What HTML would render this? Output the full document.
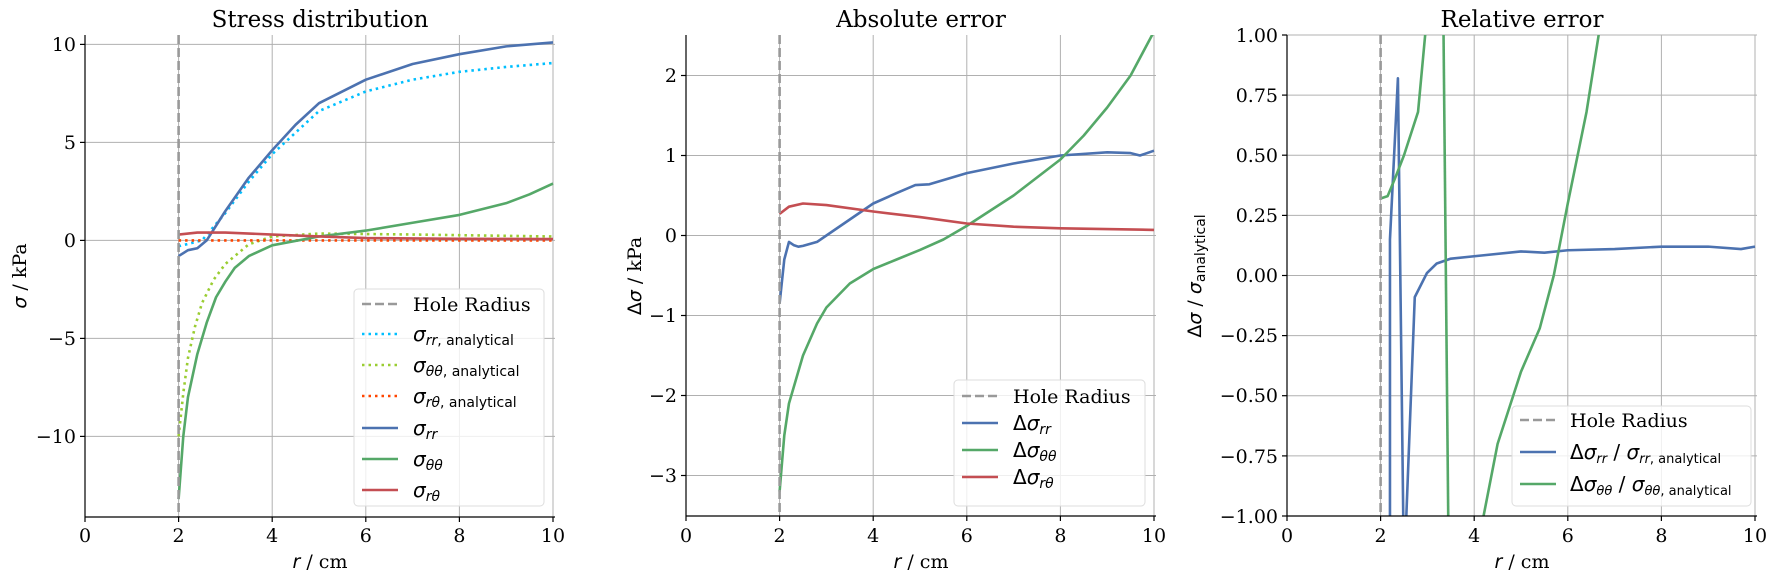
<!DOCTYPE html>
<html><head><meta charset="utf-8"><style>
html,body{margin:0;padding:0;background:#fff}
svg{display:block}
.t{font-family:"DejaVu Serif","Liberation Serif",serif;font-size:19px;fill:#000}
.ti{font-family:"DejaVu Serif","Liberation Serif",serif;font-size:23px;fill:#000}
.m{font-family:"DejaVu Sans","Liberation Sans",sans-serif;font-size:20px;fill:#000}
.g{stroke:#b0b0b0;stroke-width:1}
.ln{fill:none;stroke-width:2.6;vector-effect:non-scaling-stroke;stroke-linejoin:round}
</style></head><body>
<svg width="1778" height="578" viewBox="0 0 1778 578" xmlns="http://www.w3.org/2000/svg">
<defs>
<clipPath id="c1"><rect x="85" y="35" width="470" height="482"/></clipPath>
<clipPath id="c2"><rect x="686" y="35" width="470" height="481"/></clipPath>
<clipPath id="c3"><rect x="1287" y="35" width="470" height="481"/></clipPath>
</defs>

<!-- ========== Panel 1 ========== -->
<g>
<text class="ti" x="320" y="27" text-anchor="middle">Stress distribution</text>
<g class="g">
<line x1="85" x2="555" y1="44.4" y2="44.4"/><line x1="85" x2="555" y1="142.4" y2="142.4"/><line x1="85" x2="555" y1="240.4" y2="240.4"/><line x1="85" x2="555" y1="338.4" y2="338.4"/><line x1="85" x2="555" y1="436.4" y2="436.4"/>
<line x1="178.6" x2="178.6" y1="35" y2="517"/><line x1="272.2" x2="272.2" y1="35" y2="517"/><line x1="365.8" x2="365.8" y1="35" y2="517"/><line x1="459.4" x2="459.4" y1="35" y2="517"/><line x1="553" x2="553" y1="35" y2="517"/>
</g>
<g clip-path="url(#c1)">
<g transform="translate(85,240.4) scale(46.8,-19.6)">
<polyline class="ln" stroke="#00bfff" stroke-dasharray="2.5,4" points="2,-0.3 2.5,0 3,1.4 3.5,3 4,4.4 5,6.6 6,7.6 7,8.2 8,8.6 9,8.85 10,9.05"/>
<polyline class="ln" stroke="#9acd32" stroke-dasharray="2.5,4" points="2,-10 2.1,-7.8 2.2,-6 2.35,-4.4 2.5,-3.2 2.75,-2 3,-1.2 3.5,-0.2 4,0.2 5,0.35 7,0.3 10,0.2"/>
<polyline class="ln" stroke="#ff4500" stroke-dasharray="2.5,4" points="2,0 10,0"/>
<polyline class="ln" stroke="#4c72b0" points="2,-0.8 2.2,-0.5 2.4,-0.4 2.6,0 3,1.5 3.5,3.2 4,4.6 4.5,5.9 5,7.0 6,8.2 7,9.0 8,9.5 9,9.9 10,10.1"/>
<polyline class="ln" stroke="#55a868" points="2,-13.2 2.1,-10 2.2,-8 2.4,-5.8 2.6,-4.2 2.8,-2.9 3,-2.1 3.2,-1.4 3.5,-0.8 4,-0.25 5,0.2 6,0.5 7,0.9 8,1.3 9,1.9 9.5,2.35 10,2.9"/>
<polyline class="ln" stroke="#c44e52" points="2,0.3 2.4,0.4 3,0.4 4,0.3 5,0.2 6,0.12 8,0.08 10,0.07"/>
</g>
<line x1="178.6" x2="178.6" y1="35" y2="517" stroke="#999" stroke-width="2.6" stroke-dasharray="9,4"/>
</g>
<g stroke="#000" stroke-width="1.2"><line x1="85" x2="85" y1="35" y2="517"/><line x1="85" x2="555" y1="517" y2="517"/>
<line x1="80" x2="85" y1="44.4" y2="44.4"/><line x1="80" x2="85" y1="142.4" y2="142.4"/><line x1="80" x2="85" y1="240.4" y2="240.4"/><line x1="80" x2="85" y1="338.4" y2="338.4"/><line x1="80" x2="85" y1="436.4" y2="436.4"/>
<line x1="85" x2="85" y1="517" y2="522"/><line x1="178.6" x2="178.6" y1="517" y2="522"/><line x1="272.2" x2="272.2" y1="517" y2="522"/><line x1="365.8" x2="365.8" y1="517" y2="522"/><line x1="459.4" x2="459.4" y1="517" y2="522"/><line x1="553" x2="553" y1="517" y2="522"/></g>
<g class="t" text-anchor="end"><text x="76" y="51">10</text><text x="76" y="149">5</text><text x="76" y="247">0</text><text x="76" y="345">−5</text><text x="76" y="443">−10</text></g>
<g class="t" text-anchor="middle"><text x="85" y="542">0</text><text x="178.6" y="542">2</text><text x="272.2" y="542">4</text><text x="365.8" y="542">6</text><text x="459.4" y="542">8</text><text x="553" y="542">10</text></g>
<text class="t" x="320" y="568" text-anchor="middle"><tspan font-style="italic" font-family="DejaVu Sans">r</tspan> / cm</text>
<text class="t" transform="translate(26,276) rotate(-90)" text-anchor="middle"><tspan font-style="italic" font-family="DejaVu Sans">σ</tspan> / kPa</text>
<rect x="354" y="289" width="190" height="217" rx="4" fill="#fff" fill-opacity="0.8" stroke="#ddd"/>
<g stroke-width="2.6">
<line x1="362" x2="398" y1="304" y2="304" stroke="#999" stroke-dasharray="9,4"/>
<line x1="362" x2="398" y1="334" y2="334" stroke="#00bfff" stroke-dasharray="2.5,4"/>
<line x1="362" x2="398" y1="365" y2="365" stroke="#9acd32" stroke-dasharray="2.5,4"/>
<line x1="362" x2="398" y1="396" y2="396" stroke="#ff4500" stroke-dasharray="2.5,4"/>
<line x1="362" x2="398" y1="428" y2="428" stroke="#4c72b0"/>
<line x1="362" x2="398" y1="459" y2="459" stroke="#55a868"/>
<line x1="362" x2="398" y1="490" y2="490" stroke="#c44e52"/>
</g>
<text class="t" x="413" y="311" font-size="21">Hole Radius</text>
<text class="m" x="413" y="341"><tspan font-style="italic">σ</tspan><tspan font-size="14" dy="4"><tspan font-style="italic">rr</tspan>, analytical</tspan></text>
<text class="m" x="413" y="372"><tspan font-style="italic">σ</tspan><tspan font-size="14" dy="4"><tspan font-style="italic">θθ</tspan>, analytical</tspan></text>
<text class="m" x="413" y="403"><tspan font-style="italic">σ</tspan><tspan font-size="14" dy="4"><tspan font-style="italic">rθ</tspan>, analytical</tspan></text>
<text class="m" x="413" y="435"><tspan font-style="italic">σ</tspan><tspan font-size="14" dy="4" font-style="italic">rr</tspan></text>
<text class="m" x="413" y="466"><tspan font-style="italic">σ</tspan><tspan font-size="14" dy="4" font-style="italic">θθ</tspan></text>
<text class="m" x="413" y="497"><tspan font-style="italic">σ</tspan><tspan font-size="14" dy="4" font-style="italic">rθ</tspan></text>
</g>

<!-- ========== Panel 2 ========== -->
<g>
<text class="ti" x="921" y="27" text-anchor="middle">Absolute error</text>
<g class="g">
<line x1="686" x2="1156" y1="75.5" y2="75.5"/><line x1="686" x2="1156" y1="155.5" y2="155.5"/><line x1="686" x2="1156" y1="235.5" y2="235.5"/><line x1="686" x2="1156" y1="315.5" y2="315.5"/><line x1="686" x2="1156" y1="395.5" y2="395.5"/><line x1="686" x2="1156" y1="475.5" y2="475.5"/>
<line x1="779.6" x2="779.6" y1="35" y2="516"/><line x1="873.2" x2="873.2" y1="35" y2="516"/><line x1="966.8" x2="966.8" y1="35" y2="516"/><line x1="1060.4" x2="1060.4" y1="35" y2="516"/><line x1="1154" x2="1154" y1="35" y2="516"/>
</g>
<g clip-path="url(#c2)">
<g transform="translate(686,235.5) scale(46.8,-80)">
<polyline class="ln" stroke="#4c72b0" points="2,-0.85 2.1,-0.3 2.2,-0.08 2.3,-0.12 2.4,-0.14 2.5,-0.13 2.8,-0.08 3,0 3.5,0.2 4,0.4 4.5,0.53 4.9,0.63 5.2,0.64 6,0.78 7,0.9 8,1.0 9,1.04 9.5,1.03 9.7,1.0 10,1.06"/>
<polyline class="ln" stroke="#55a868" points="2,-3.2 2.1,-2.5 2.2,-2.1 2.5,-1.5 2.8,-1.1 3,-0.9 3.5,-0.6 4,-0.42 4.5,-0.3 5,-0.18 5.5,-0.05 6,0.12 7,0.5 8,0.95 8.5,1.25 9,1.6 9.5,2.0 10,2.55"/>
<polyline class="ln" stroke="#c44e52" points="2,0.27 2.2,0.36 2.5,0.4 3,0.38 4,0.3 5,0.23 6,0.15 7,0.11 8,0.09 10,0.07"/>
</g>
<line x1="779.6" x2="779.6" y1="35" y2="516" stroke="#999" stroke-width="2.6" stroke-dasharray="9,4"/>
</g>
<g stroke="#000" stroke-width="1.2"><line x1="686" x2="686" y1="35" y2="516"/><line x1="686" x2="1156" y1="516" y2="516"/>
<line x1="681" x2="686" y1="75.5" y2="75.5"/><line x1="681" x2="686" y1="155.5" y2="155.5"/><line x1="681" x2="686" y1="235.5" y2="235.5"/><line x1="681" x2="686" y1="315.5" y2="315.5"/><line x1="681" x2="686" y1="395.5" y2="395.5"/><line x1="681" x2="686" y1="475.5" y2="475.5"/>
<line x1="686" x2="686" y1="516" y2="521"/><line x1="779.6" x2="779.6" y1="516" y2="521"/><line x1="873.2" x2="873.2" y1="516" y2="521"/><line x1="966.8" x2="966.8" y1="516" y2="521"/><line x1="1060.4" x2="1060.4" y1="516" y2="521"/><line x1="1154" x2="1154" y1="516" y2="521"/></g>
<g class="t" text-anchor="end"><text x="677" y="82">2</text><text x="677" y="162">1</text><text x="677" y="242">0</text><text x="677" y="322">−1</text><text x="677" y="402">−2</text><text x="677" y="482">−3</text></g>
<g class="t" text-anchor="middle"><text x="686" y="542">0</text><text x="779.6" y="542">2</text><text x="873.2" y="542">4</text><text x="966.8" y="542">6</text><text x="1060.4" y="542">8</text><text x="1154" y="542">10</text></g>
<text class="t" x="921" y="568" text-anchor="middle"><tspan font-style="italic" font-family="DejaVu Sans">r</tspan> / cm</text>
<text class="t" transform="translate(641,276) rotate(-90)" text-anchor="middle"><tspan font-family="DejaVu Sans">Δ</tspan><tspan font-style="italic" font-family="DejaVu Sans">σ</tspan> / kPa</text>
<rect x="954" y="380" width="191" height="126" rx="4" fill="#fff" fill-opacity="0.8" stroke="#ddd"/>
<g stroke-width="2.6">
<line x1="962" x2="998" y1="396" y2="396" stroke="#999" stroke-dasharray="9,4"/>
<line x1="962" x2="998" y1="423" y2="423" stroke="#4c72b0"/>
<line x1="962" x2="998" y1="450" y2="450" stroke="#55a868"/>
<line x1="962" x2="998" y1="477" y2="477" stroke="#c44e52"/>
</g>
<text class="t" x="1013" y="403" font-size="21">Hole Radius</text>
<text class="m" x="1013" y="430">Δ<tspan font-style="italic">σ</tspan><tspan font-size="14" dy="4" font-style="italic">rr</tspan></text>
<text class="m" x="1013" y="457">Δ<tspan font-style="italic">σ</tspan><tspan font-size="14" dy="4" font-style="italic">θθ</tspan></text>
<text class="m" x="1013" y="484">Δ<tspan font-style="italic">σ</tspan><tspan font-size="14" dy="4" font-style="italic">rθ</tspan></text>
</g>

<!-- ========== Panel 3 ========== -->
<g>
<text class="ti" x="1522" y="27" text-anchor="middle">Relative error</text>
<g class="g">
<line x1="1287" x2="1757" y1="35" y2="35"/><line x1="1287" x2="1757" y1="95.1" y2="95.1"/><line x1="1287" x2="1757" y1="155.2" y2="155.2"/><line x1="1287" x2="1757" y1="215.4" y2="215.4"/><line x1="1287" x2="1757" y1="275.5" y2="275.5"/><line x1="1287" x2="1757" y1="335.6" y2="335.6"/><line x1="1287" x2="1757" y1="395.7" y2="395.7"/><line x1="1287" x2="1757" y1="455.9" y2="455.9"/>
<line x1="1380.6" x2="1380.6" y1="35" y2="516"/><line x1="1474.2" x2="1474.2" y1="35" y2="516"/><line x1="1567.8" x2="1567.8" y1="35" y2="516"/><line x1="1661.4" x2="1661.4" y1="35" y2="516"/><line x1="1755" x2="1755" y1="35" y2="516"/>
</g>
<g clip-path="url(#c3)">
<g transform="translate(1287,275.5) scale(46.8,-240.5)">
<polyline class="ln" stroke="#4c72b0" points="2.2,-1.1 2.2,0.15 2.37,0.82 2.49,-1.1 2.53,-1.1 2.73,-0.09 2.99,0.01 3.2,0.05 3.5,0.07 4,0.08 5,0.1 5.5,0.095 6,0.105 7,0.11 8,0.12 9,0.12 9.7,0.11 10,0.12"/>
<polyline class="ln" stroke="#55a868" points="2,0.32 2.15,0.33 2.3,0.4 2.5,0.5 2.8,0.68 3,1.1"/>
<polyline class="ln" stroke="#55a868" points="3.34,1.1 3.45,-1.1"/>
<polyline class="ln" stroke="#55a868" points="4.15,-1.05 4.5,-0.7 5,-0.4 5.4,-0.22 5.7,0 6,0.3 6.4,0.68 6.7,1.05"/>
</g>
<line x1="1380.6" x2="1380.6" y1="35" y2="516" stroke="#999" stroke-width="2.6" stroke-dasharray="9,4"/>
</g>
<g stroke="#000" stroke-width="1.2"><line x1="1287" x2="1287" y1="35" y2="516"/><line x1="1287" x2="1757" y1="516" y2="516"/>
<line x1="1282" x2="1287" y1="35" y2="35"/><line x1="1282" x2="1287" y1="95.1" y2="95.1"/><line x1="1282" x2="1287" y1="155.2" y2="155.2"/><line x1="1282" x2="1287" y1="215.4" y2="215.4"/><line x1="1282" x2="1287" y1="275.5" y2="275.5"/><line x1="1282" x2="1287" y1="335.6" y2="335.6"/><line x1="1282" x2="1287" y1="395.7" y2="395.7"/><line x1="1282" x2="1287" y1="455.9" y2="455.9"/><line x1="1282" x2="1287" y1="516" y2="516"/>
<line x1="1287" x2="1287" y1="516" y2="521"/><line x1="1380.6" x2="1380.6" y1="516" y2="521"/><line x1="1474.2" x2="1474.2" y1="516" y2="521"/><line x1="1567.8" x2="1567.8" y1="516" y2="521"/><line x1="1661.4" x2="1661.4" y1="516" y2="521"/><line x1="1755" x2="1755" y1="516" y2="521"/></g>
<g class="t" text-anchor="end"><text x="1278" y="42">1.00</text><text x="1278" y="102">0.75</text><text x="1278" y="162">0.50</text><text x="1278" y="222">0.25</text><text x="1278" y="282">0.00</text><text x="1278" y="342">−0.25</text><text x="1278" y="402">−0.50</text><text x="1278" y="463">−0.75</text><text x="1278" y="523">−1.00</text></g>
<g class="t" text-anchor="middle"><text x="1287" y="542">0</text><text x="1380.6" y="542">2</text><text x="1474.2" y="542">4</text><text x="1567.8" y="542">6</text><text x="1661.4" y="542">8</text><text x="1755" y="542">10</text></g>
<text class="t" x="1522" y="568" text-anchor="middle"><tspan font-style="italic" font-family="DejaVu Sans">r</tspan> / cm</text>
<text class="t" transform="translate(1201,276) rotate(-90)" text-anchor="middle"><tspan font-family="DejaVu Sans">Δ</tspan><tspan font-style="italic" font-family="DejaVu Sans">σ</tspan> / <tspan font-style="italic" font-family="DejaVu Sans">σ</tspan><tspan font-family="DejaVu Sans" font-size="14" dy="4">analytical</tspan></text>
<rect x="1512" y="406" width="239" height="100" rx="4" fill="#fff" fill-opacity="0.8" stroke="#ddd"/>
<g stroke-width="2.6">
<line x1="1520" x2="1556" y1="420" y2="420" stroke="#999" stroke-dasharray="9,4"/>
<line x1="1520" x2="1556" y1="452" y2="452" stroke="#4c72b0"/>
<line x1="1520" x2="1556" y1="484" y2="484" stroke="#55a868"/>
</g>
<text class="t" x="1570" y="427" font-size="21">Hole Radius</text>
<text class="m" x="1570" y="459" font-size="19">Δ<tspan font-style="italic">σ</tspan><tspan font-size="13" dy="4" font-style="italic">rr</tspan><tspan dy="-4"> / </tspan><tspan font-style="italic">σ</tspan><tspan font-size="13" dy="4"><tspan font-style="italic">rr</tspan>, analytical</tspan></text>
<text class="m" x="1570" y="491" font-size="19">Δ<tspan font-style="italic">σ</tspan><tspan font-size="13" dy="4" font-style="italic">θθ</tspan><tspan dy="-4"> / </tspan><tspan font-style="italic">σ</tspan><tspan font-size="13" dy="4"><tspan font-style="italic">θθ</tspan>, analytical</tspan></text>
</g>
</svg>
</body></html>
